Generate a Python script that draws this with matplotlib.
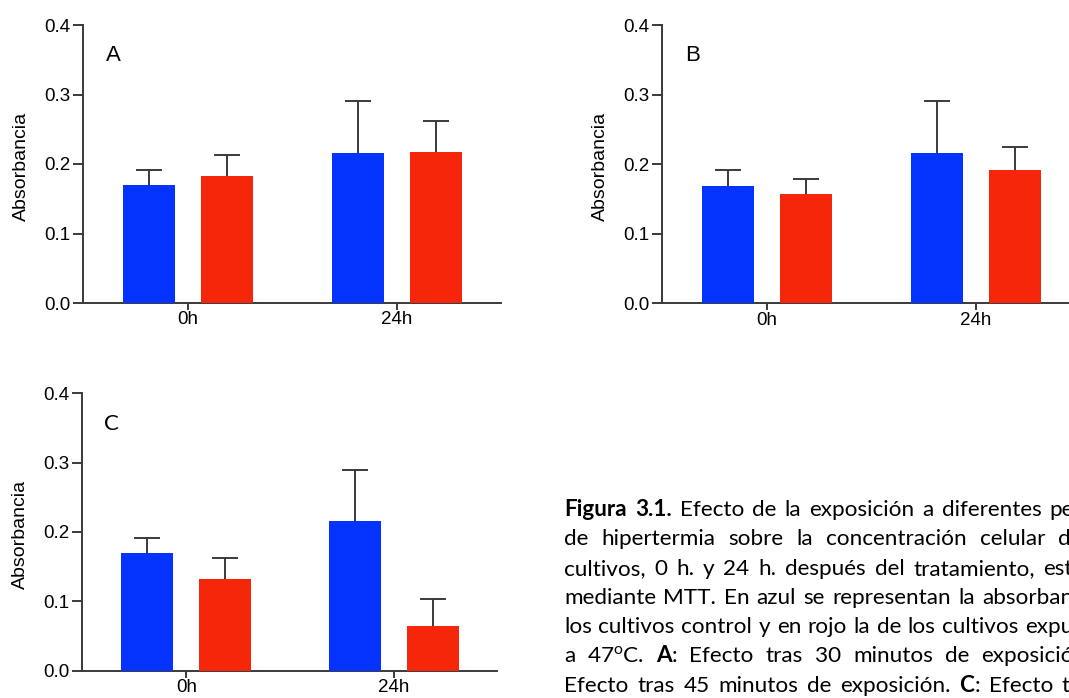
import matplotlib
matplotlib.use("Agg")
import matplotlib.pyplot as plt
import numpy as np

W, H = 1069, 698
plt.rcParams["font.family"] = ["Liberation Sans", "DejaVu Sans"]
plt.rcParams["mathtext.fontset"] = "custom"
plt.rcParams["mathtext.rm"] = "Lato"

# data (absorbance, mean and upper SD)
categories = ["0h", "24h"]
control_A = [0.170, 0.216]
control_A_err = [0.021, 0.075]
heat_A = [0.183, 0.217]
heat_A_err = [0.030, 0.045]

control_B = [0.169, 0.216]
control_B_err = [0.022, 0.075]
heat_B = [0.157, 0.192]
heat_B_err = [0.022, 0.032]

control_C = [0.170, 0.216]
control_C_err = [0.021, 0.074]
heat_C = [0.132, 0.065]
heat_C_err = [0.031, 0.038]

BLUE = "#0433ff"
RED = "#f6260a"
DARK = "#3a3a3a"

fig = plt.figure(figsize=(W / 100, H / 100), dpi=100)


def px_axes(left, right, top, bottom):
    return fig.add_axes([left / W, 1 - bottom / H, (right - left) / W, (bottom - top) / H])


def panel(ax, ctrl, ctrl_err, heat, heat_err, letter, letter_font):
    x = np.arange(len(categories))
    w, off = 0.25, 0.1875
    ax.bar(x - off, ctrl, w, color=BLUE, zorder=3)
    ax.bar(x + off, heat, w, color=RED, zorder=3)
    # symmetric bars drawn under the columns -> only the upper half shows
    for xs, vals, err in [(x - off, ctrl, ctrl_err), (x + off, heat, heat_err)]:
        ax.errorbar(xs, vals, yerr=err, fmt="none", ecolor=DARK,
                    elinewidth=1.4, capsize=9.4, capthick=1.4, zorder=2)
    ax.set_xlim(-0.502, 1.496)
    ax.set_ylim(0, 0.4)
    ax.set_yticks([0.0, 0.1, 0.2, 0.3, 0.4])
    ax.set_yticklabels(["0.0", "0.1", "0.2", "0.3", "0.4"])
    ax.set_xticks(x)
    ax.set_xticklabels(categories)
    for s in ["top", "right"]:
        ax.spines[s].set_visible(False)
    for s in ["left", "bottom"]:
        ax.spines[s].set_color(DARK)
        ax.spines[s].set_linewidth(1.4)
    ax.tick_params(axis="y", length=7, width=1.4, color=DARK, labelsize=13.5, pad=2)
    ax.tick_params(axis="x", length=5, width=1.4, color=DARK, labelsize=13.5, pad=1)
    ax.set_ylabel("Absorbancia", fontsize=14)
    ax.yaxis.set_label_coords(-0.127, 0.49)
    ax.text(0.072, 0.89, letter, transform=ax.transAxes, fontsize=16,
            ha="center", va="center", family=letter_font)


axA = px_axes(83, 500.7, 25, 303)
panel(axA, control_A, control_A_err, heat_A, heat_A_err, "A", "Liberation Sans")
axB = px_axes(662, 1079.7, 25, 303.3)
panel(axB, control_B, control_B_err, heat_B, heat_B_err, "B", "Liberation Sans")
axC = px_axes(82, 497, 393.3, 670.7)
panel(axC, control_C, control_C_err, heat_C, heat_C_err, "C", "Lato")

# caption: justified text, cut off by the right edge of the page
CAP_FONT = "Lato"
CAP_SIZE = 16.2
x0 = 564
baseline0 = 516
step = 29.3

# each line: list of (text, bold, gap_before); target right end of the visible part
caption_lines = [
    ([("Figura", True, 0), ("3.1.", True, 1), ("Efecto", False, 1), ("de", False, 1),
      ("la", False, 1), ("exposición", False, 1), ("a", False, 1),
      ("diferentes", False, 1), ("pe", False, 1)], 1074),
    ([("de", False, 0), ("hipertermia", False, 1), ("sobre", False, 1), ("la", False, 1),
      ("concentración", False, 1), ("celular", False, 1), ("d", False, 1)], 1071),
    ([("cultivos,", False, 0), ("0", False, 1), ("h.", False, 1), ("y", False, 1),
      ("24", False, 1), ("h.", False, 1), ("después", False, 1), ("del", False, 1),
      ("tratamiento,", False, 1), ("est", False, 1)], 1073),
    ([("mediante", False, 0), ("MTT.", False, 1), ("En", False, 1), ("azul", False, 1),
      ("se", False, 1), ("representan", False, 1), ("la", False, 1),
      ("absorban", False, 1)], 1073),
    ([("los", False, 0), ("cultivos", False, 1), ("control", False, 1), ("y", False, 1),
      ("en", False, 1), ("rojo", False, 1), ("la", False, 1), ("de", False, 1),
      ("los", False, 1), ("cultivos", False, 1), ("expu", False, 1)], 1073),
    ([("a", False, 0), ("47$^{\\rm o}$C.", False, 1), ("A", True, 1), (":", False, 0),
      ("Efecto", False, 1), ("tras", False, 1), ("30", False, 1), ("minutos", False, 1),
      ("de", False, 1), ("exposició", False, 1)], 1074),
    ([("Efecto", False, 0), ("tras", False, 1), ("45", False, 1), ("minutos", False, 1),
      ("de", False, 1), ("exposición.", False, 1), ("C", True, 1), (":", False, 0),
      ("Efecto", False, 1), ("t", False, 1)], 1070),
]

renderer = fig.canvas.get_renderer()


def make(txt, bold):
    return fig.text(0, 0, txt, family=CAP_FONT, fontsize=CAP_SIZE,
                    fontweight="bold" if bold else "normal", va="baseline", ha="left")


def width(t):
    return t.get_window_extent(renderer).width


probe1, probe2 = make("a a", False), make("aa", False)
space = width(probe1) - width(probe2)
probe1.remove()
probe2.remove()

for i, (segs, end_x) in enumerate(caption_lines):
    yb = baseline0 + i * step
    texts = [make(t, b) for t, b, _ in segs]
    widths = [width(t) for t in texts]
    n_gaps = sum(g for _, _, g in segs)
    gap = (end_x - x0 - sum(widths)) / n_gaps if n_gaps else space
    xp = x0
    for t, wpx, (_, _, g) in zip(texts, widths, segs):
        xp += gap * g
        t.set_position((xp / W, 1 - yb / H))
        xp += wpx

fig.savefig("out.png", dpi=100)
